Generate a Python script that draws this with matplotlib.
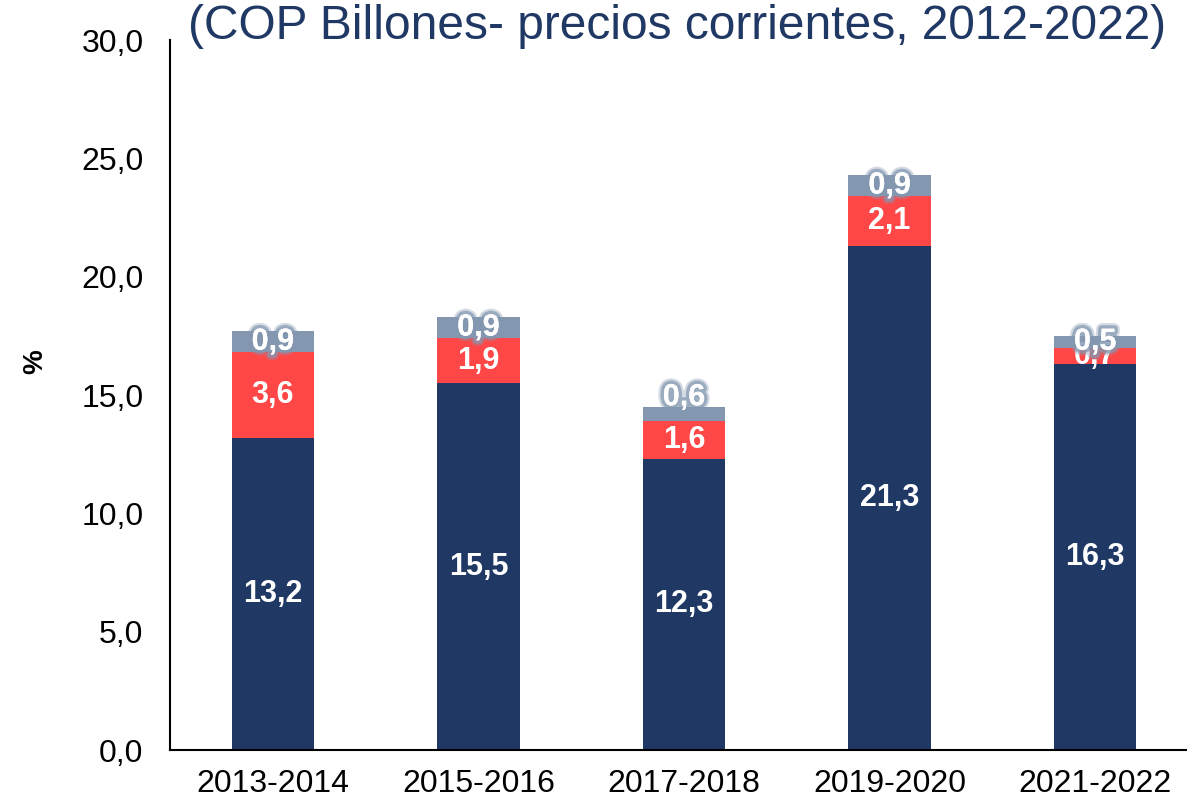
import matplotlib
matplotlib.use("Agg")
import matplotlib.pyplot as plt
import matplotlib.patheffects as pe
import numpy as np

plt.rcParams['font.family'] = ['Liberation Sans', 'DejaVu Sans']

categories = ["2013-2014", "2015-2016", "2017-2018", "2019-2020", "2021-2022"]
navy_vals = [13.2, 15.5, 12.3, 21.3, 16.3]
red_vals = [3.6, 1.9, 1.6, 2.1, 0.7]
grey_vals = [0.9, 0.9, 0.6, 0.9, 0.5]
yticks = [0, 5, 10, 15, 20, 25, 30]
title = "(COP Billones- precios corrientes, 2012-2022)"

NAVY = "#203864"
RED = "#FF4747"
GREY = "#8497B0"

fig = plt.figure(figsize=(11.87, 8.02), dpi=100)
ax = fig.add_axes([170/1187, 1-750/802, 1028/1187, 710/802])

x = np.arange(len(categories))
w = 0.4
navy = np.array(navy_vals)
red = np.array(red_vals)
grey = np.array(grey_vals)
ax.bar(x, navy, w, color=NAVY)
ax.bar(x, red, w, bottom=navy, color=RED)
ax.bar(x, grey, w, bottom=navy + red, color=GREY)

fmt = lambda v: f"{v:.1f}".replace(".", ",")
for i in range(len(x)):
    ax.text(x[i], navy[i] / 2, fmt(navy[i]), ha='center', va='center',
            color='white', fontsize=22, fontweight='bold')
    ax.text(x[i], navy[i] + red[i] / 2, fmt(red[i]), ha='center', va='center',
            color='white', fontsize=22, fontweight='bold')
    # grey labels with glow
    dy = 12 if i == 2 else 0
    ax.annotate(fmt(grey[i]), (x[i], navy[i] + red[i] + grey[i] / 2),
                xytext=(0, dy), textcoords='offset points',
                ha='center', va='center', color='white', fontsize=22,
                fontweight='bold',
                path_effects=[pe.withStroke(linewidth=8, foreground=GREY, alpha=0.35),
                              pe.withStroke(linewidth=5, foreground=GREY, alpha=0.7),
                              pe.Normal()])

ax.set_xlim(-0.5, 4.5)
ax.set_ylim(0, 30)
ax.set_yticks(yticks)
ax.set_yticklabels([fmt(float(t)) for t in yticks], fontsize=23)
ax.set_xticks(x)
ax.set_xticklabels(categories, fontsize=23)
ax.tick_params(axis='y', length=0, pad=19)
ax.tick_params(axis='x', length=0, pad=14)
for s in ['top', 'right']:
    ax.spines[s].set_visible(False)
for s in ['left', 'bottom']:
    ax.spines[s].set_linewidth(1.5)
    ax.spines[s].set_color('black')

fig.text(35/1187, 1-362/802, "%", rotation=90, ha='center', va='center',
         fontsize=20, fontweight='bold')

fig.text(677/1187, 1-39/802, title, ha='center', va='baseline',
         fontsize=34.5, color=NAVY)

fig.savefig("out.png", dpi=100)
